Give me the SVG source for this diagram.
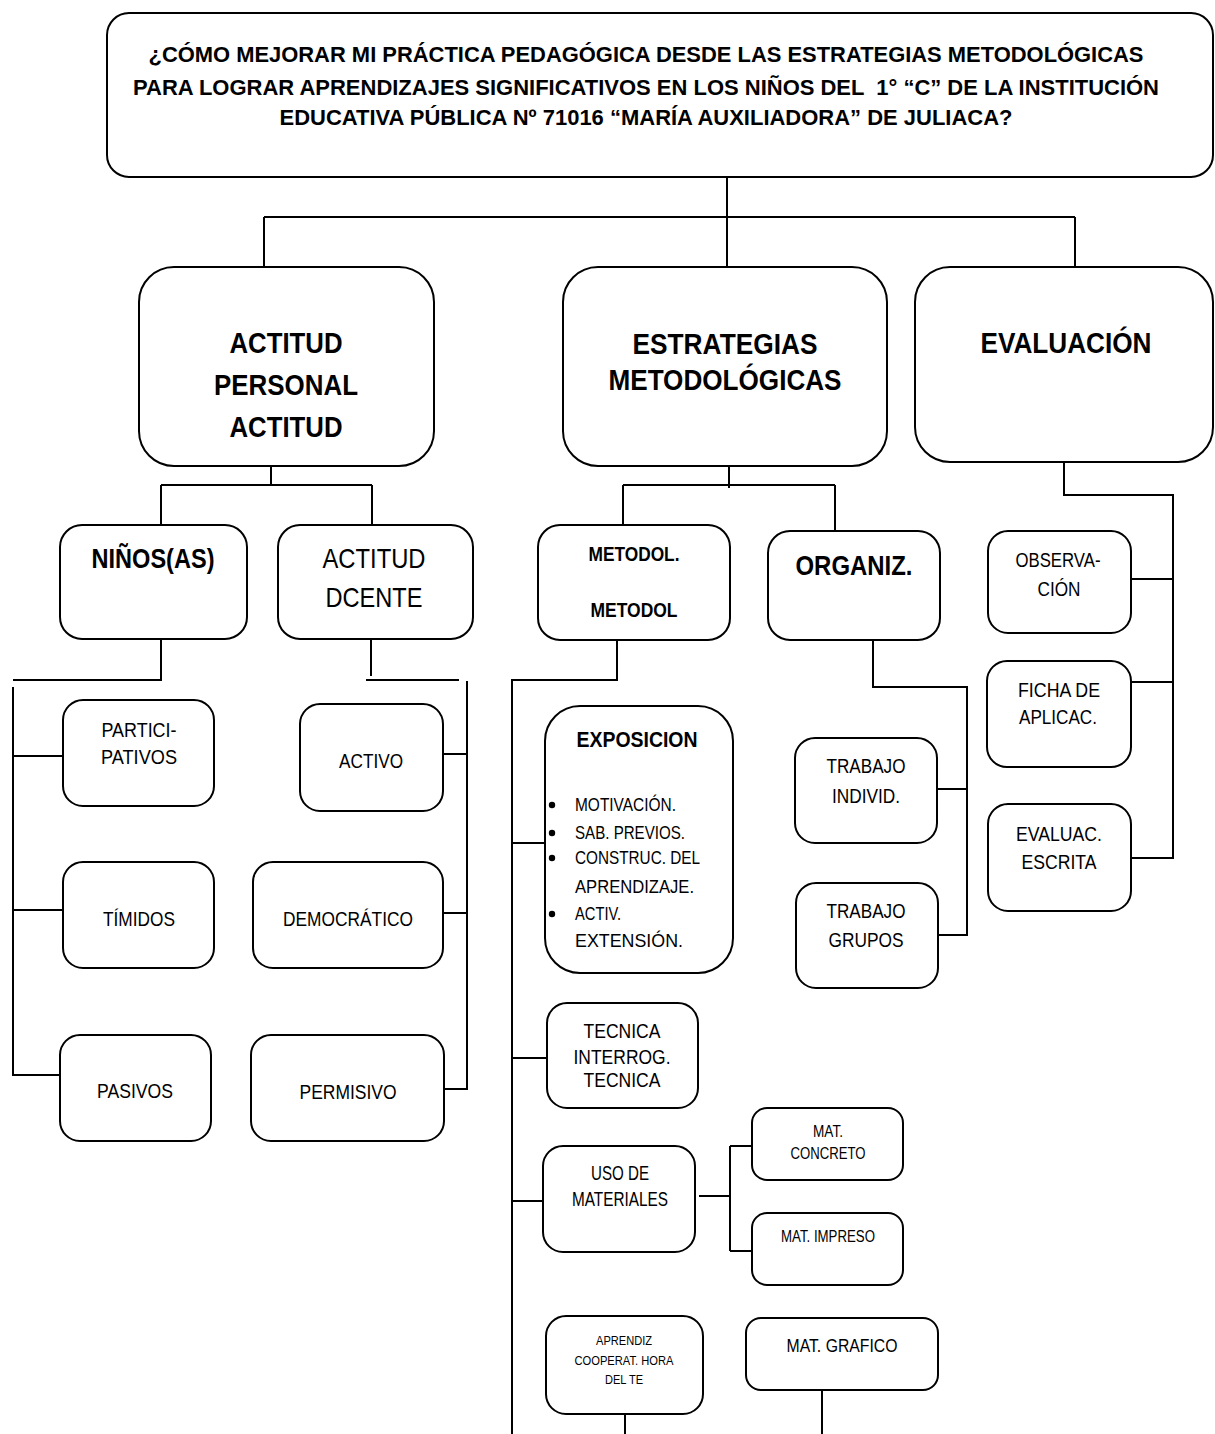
<svg xmlns="http://www.w3.org/2000/svg" width="1215" height="1434" viewBox="0 0 1215 1434">
<style>
.b{fill:#fff;stroke:#000;stroke-width:2}
.c{fill:none;stroke:#000;stroke-width:2}
text{font-family:"Liberation Sans",Arial,sans-serif;fill:#000;text-anchor:middle}
.bo{font-weight:bold}
.s{text-anchor:start}
</style>
<rect width="1215" height="1434" fill="#fff"/>
<g id="connectors" class="c">
<path d="M727 177V268M264 217H1075M264 217V267M1075 217V267"/>
<path d="M1095 95V120"/>
<path d="M271 466V485M161 485H372M161 485V525M372 485V525"/>
<path d="M161 639V680H13M13 687V1075H60M13 756H63M13 910H63"/>
<path d="M371 639V676M366 680H459M467 681V1089H444M443 754H467M443 913H467"/>
<path d="M729 466V488M623 485H835M623 485V530M835 485V531"/>
<path d="M617 639V680H512V1434M512 843H545M512 1058H547M512 1201H543"/>
<path d="M699 1196H730M730 1146V1251M730 1146H752M730 1251H752"/>
<path d="M625 1414V1434M822 1390V1434"/>
<path d="M873 640V687H967V935H937M937 789H967"/>
<path d="M1064 462V495H1173V858H1131M1131 579H1173M1131 682H1173"/>
</g>
<g id="n-top"><rect class="b" x="107" y="13" width="1106" height="164" rx="22"/>
<text class="bo" x="646" y="62" font-size="22.5" textLength="995" lengthAdjust="spacingAndGlyphs">¿CÓMO MEJORAR MI PRÁCTICA PEDAGÓGICA DESDE LAS ESTRATEGIAS METODOLÓGICAS</text>
<text class="bo" x="646" y="95" font-size="22" textLength="1026" lengthAdjust="spacingAndGlyphs">PARA LOGRAR APRENDIZAJES SIGNIFICATIVOS EN LOS NIÑOS DEL &#160;1° “C” DE LA INSTITUCIÓN</text>
<text class="bo" x="646" y="125" font-size="22.5" textLength="733" lengthAdjust="spacingAndGlyphs">EDUCATIVA PÚBLICA Nº 71016 “MARÍA AUXILIADORA” DE JULIACA?</text></g>
<g id="n-actitud"><rect class="b" x="139" y="267" width="295" height="199" rx="35"/>
<text class="bo" x="286" y="353" font-size="29" textLength="113" lengthAdjust="spacingAndGlyphs">ACTITUD</text>
<text class="bo" x="286" y="395" font-size="29" textLength="144" lengthAdjust="spacingAndGlyphs">PERSONAL</text>
<text class="bo" x="286" y="437" font-size="29" textLength="113" lengthAdjust="spacingAndGlyphs">ACTITUD</text></g>
<g id="n-estrategias"><rect class="b" x="563" y="267" width="324" height="199" rx="35"/>
<text class="bo" x="725" y="354" font-size="29" textLength="185" lengthAdjust="spacingAndGlyphs">ESTRATEGIAS</text>
<text class="bo" x="725" y="390" font-size="29" textLength="233" lengthAdjust="spacingAndGlyphs">METODOLÓGICAS</text></g>
<g id="n-evaluacion"><rect class="b" x="915" y="267" width="298" height="195" rx="35"/>
<text class="bo" x="1066" y="353" font-size="29" textLength="171" lengthAdjust="spacingAndGlyphs">EVALUACIÓN</text></g>
<g id="n-ninos"><rect class="b" x="60" y="525" width="187" height="114" rx="22"/>
<text class="bo" x="153" y="568" font-size="27" textLength="123" lengthAdjust="spacingAndGlyphs">NIÑOS(AS)</text></g>
<g id="n-dcente"><rect class="b" x="278" y="525" width="195" height="114" rx="22"/>
<text x="374" y="568" font-size="28" textLength="103" lengthAdjust="spacingAndGlyphs">ACTITUD</text>
<text x="374" y="607" font-size="28" textLength="97" lengthAdjust="spacingAndGlyphs">DCENTE</text></g>
<g id="n-participativos"><rect class="b" x="63" y="700" width="151" height="106" rx="20"/>
<text x="139" y="737" font-size="20" textLength="75" lengthAdjust="spacingAndGlyphs">PARTICI-</text>
<text x="139" y="764" font-size="20" textLength="76" lengthAdjust="spacingAndGlyphs">PATIVOS</text></g>
<g id="n-timidos"><rect class="b" x="63" y="862" width="151" height="106" rx="20"/>
<text x="139" y="926" font-size="20" textLength="72" lengthAdjust="spacingAndGlyphs">TÍMIDOS</text></g>
<g id="n-pasivos"><rect class="b" x="60" y="1035" width="151" height="106" rx="20"/>
<text x="135" y="1098" font-size="20" textLength="76" lengthAdjust="spacingAndGlyphs">PASIVOS</text></g>
<g id="n-activo"><rect class="b" x="300" y="704" width="143" height="107" rx="20"/>
<text x="371" y="768" font-size="20" textLength="64" lengthAdjust="spacingAndGlyphs">ACTIVO</text></g>
<g id="n-democratico"><rect class="b" x="253" y="862" width="190" height="106" rx="20"/>
<text x="348" y="926" font-size="20" textLength="130" lengthAdjust="spacingAndGlyphs">DEMOCRÁTICO</text></g>
<g id="n-permisivo"><rect class="b" x="251" y="1035" width="193" height="106" rx="20"/>
<text x="348" y="1099" font-size="20" textLength="97" lengthAdjust="spacingAndGlyphs">PERMISIVO</text></g>
<g id="n-metodol"><rect class="b" x="538" y="525" width="192" height="115" rx="22"/>
<text class="bo" x="634" y="561" font-size="20" textLength="91" lengthAdjust="spacingAndGlyphs">METODOL.</text>
<text class="bo" x="634" y="617" font-size="20" textLength="87" lengthAdjust="spacingAndGlyphs">METODOL</text></g>
<g id="n-organiz"><rect class="b" x="768" y="531" width="172" height="109" rx="22"/>
<text class="bo" x="854" y="575" font-size="28" textLength="117" lengthAdjust="spacingAndGlyphs">ORGANIZ.</text></g>
<g id="n-exposicion"><rect class="b" x="545" y="706" width="188" height="267" rx="35"/>
<text class="bo" x="637" y="747" font-size="22" textLength="121" lengthAdjust="spacingAndGlyphs">EXPOSICION</text>
<circle cx="552" cy="805" r="3.2"/><circle cx="552" cy="833" r="3.2"/><circle cx="552" cy="858" r="3.2"/><circle cx="552" cy="914" r="3.2"/>
<text class="s" x="575" y="811" font-size="18" textLength="101" lengthAdjust="spacingAndGlyphs">MOTIVACIÓN.</text>
<text class="s" x="575" y="839" font-size="18" textLength="110" lengthAdjust="spacingAndGlyphs">SAB. PREVIOS.</text>
<text class="s" x="575" y="864" font-size="18" textLength="125" lengthAdjust="spacingAndGlyphs">CONSTRUC. DEL</text>
<text class="s" x="575" y="893" font-size="18" textLength="119" lengthAdjust="spacingAndGlyphs">APRENDIZAJE.</text>
<text class="s" x="575" y="920" font-size="18" textLength="46" lengthAdjust="spacingAndGlyphs">ACTIV.</text>
<text class="s" x="575" y="947" font-size="18" textLength="108" lengthAdjust="spacingAndGlyphs">EXTENSIÓN.</text></g>
<g id="n-tecnica"><rect class="b" x="547" y="1003" width="151" height="105" rx="20"/>
<text x="622" y="1038" font-size="21" textLength="77" lengthAdjust="spacingAndGlyphs">TECNICA</text>
<text x="622" y="1064" font-size="21" textLength="97" lengthAdjust="spacingAndGlyphs">INTERROG.</text>
<text x="622" y="1087" font-size="21" textLength="77" lengthAdjust="spacingAndGlyphs">TECNICA</text></g>
<g id="n-uso"><rect class="b" x="543" y="1146" width="152" height="106" rx="20"/>
<text x="620" y="1180" font-size="19.5" textLength="58" lengthAdjust="spacingAndGlyphs">USO DE</text>
<text x="620" y="1206" font-size="19.5" textLength="96" lengthAdjust="spacingAndGlyphs">MATERIALES</text></g>
<g id="n-matconcreto"><rect class="b" x="752" y="1108" width="151" height="72" rx="15"/>
<text x="828" y="1137" font-size="16" textLength="30" lengthAdjust="spacingAndGlyphs">MAT.</text>
<text x="828" y="1159" font-size="16" textLength="75" lengthAdjust="spacingAndGlyphs">CONCRETO</text></g>
<g id="n-matimpreso"><rect class="b" x="752" y="1213" width="151" height="72" rx="15"/>
<text x="828" y="1242" font-size="16" textLength="94" lengthAdjust="spacingAndGlyphs">MAT. IMPRESO</text></g>
<g id="n-aprendiz"><rect class="b" x="546" y="1316" width="157" height="98" rx="20"/>
<text x="624" y="1345" font-size="13.5" textLength="56" lengthAdjust="spacingAndGlyphs">APRENDIZ</text>
<text x="624" y="1365" font-size="13.5" textLength="99" lengthAdjust="spacingAndGlyphs">COOPERAT. HORA</text>
<text x="624" y="1384" font-size="13.5" textLength="38" lengthAdjust="spacingAndGlyphs">DEL TE</text></g>
<g id="n-matgrafico"><rect class="b" x="746" y="1318" width="192" height="72" rx="15"/>
<text x="842" y="1352" font-size="19" textLength="111" lengthAdjust="spacingAndGlyphs">MAT. GRAFICO</text></g>
<g id="n-trabajoind"><rect class="b" x="795" y="738" width="142" height="105" rx="20"/>
<text x="866" y="773" font-size="21" textLength="79" lengthAdjust="spacingAndGlyphs">TRABAJO</text>
<text x="866" y="803" font-size="21" textLength="68" lengthAdjust="spacingAndGlyphs">INDIVID.</text></g>
<g id="n-trabajogrupos"><rect class="b" x="796" y="883" width="142" height="105" rx="20"/>
<text x="866" y="918" font-size="21" textLength="79" lengthAdjust="spacingAndGlyphs">TRABAJO</text>
<text x="866" y="947" font-size="21" textLength="75" lengthAdjust="spacingAndGlyphs">GRUPOS</text></g>
<g id="n-observacion"><rect class="b" x="988" y="531" width="143" height="102" rx="20"/>
<text x="1058" y="567" font-size="20" textLength="85" lengthAdjust="spacingAndGlyphs">OBSERVA-</text>
<text x="1059" y="596" font-size="20" textLength="43" lengthAdjust="spacingAndGlyphs">CIÓN</text></g>
<g id="n-ficha"><rect class="b" x="987" y="661" width="144" height="106" rx="20"/>
<text x="1059" y="697" font-size="20" textLength="82" lengthAdjust="spacingAndGlyphs">FICHA DE</text>
<text x="1058" y="724" font-size="20" textLength="78" lengthAdjust="spacingAndGlyphs">APLICAC.</text></g>
<g id="n-evaluac"><rect class="b" x="988" y="804" width="143" height="107" rx="20"/>
<text x="1059" y="841" font-size="20" textLength="86" lengthAdjust="spacingAndGlyphs">EVALUAC.</text>
<text x="1059" y="869" font-size="20" textLength="75" lengthAdjust="spacingAndGlyphs">ESCRITA</text></g>
</svg>
